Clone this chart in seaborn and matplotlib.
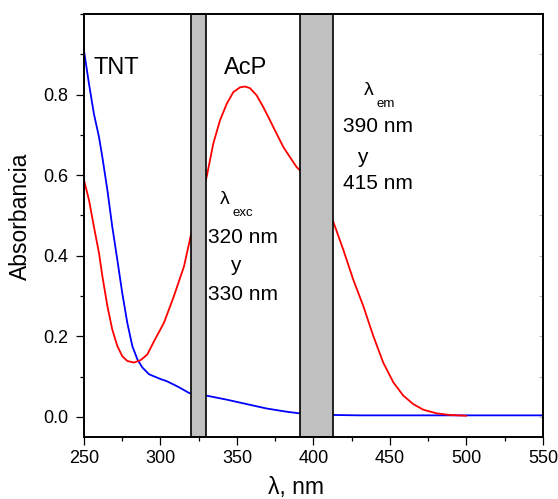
import numpy as np
import pandas as pd
import matplotlib
matplotlib.use('Agg')
import matplotlib.pyplot as plt
from matplotlib.ticker import MultipleLocator
import seaborn as sns

sns.set_style('ticks')
plt.rcParams['font.family'] = ['Liberation Sans', 'DejaVu Sans']
plt.rcParams['text.color'] = 'black'
plt.rcParams['axes.labelcolor'] = 'black'
plt.rcParams['xtick.color'] = 'black'
plt.rcParams['ytick.color'] = 'black'
plt.rcParams['axes.edgecolor'] = 'black'

# TNT (azul)
tnt_x = [250, 253.3, 256.5, 259.8, 262, 265.3, 268.5, 271.8, 275, 278.3, 281.6, 284.9,
         288.1, 292.5, 300.1, 304, 311.5, 319, 330, 343.3, 356.3, 369.4, 382.5,
         391, 412.5, 430, 450, 500, 550]
tnt_y = [0.909, 0.826, 0.752, 0.695, 0.645, 0.563, 0.472, 0.390, 0.308, 0.234, 0.176, 0.143,
         0.123, 0.106, 0.094, 0.089, 0.075, 0.059, 0.053, 0.043, 0.032, 0.021, 0.013,
         0.009, 0.005, 0.004, 0.004, 0.004, 0.004]

# AcP (rojo)
acp_x = [250, 253.3, 256.5, 259.8, 262, 265.3, 268.5, 271.8, 275, 278.3, 282.7, 287,
         291.4, 295.8, 302.3, 308.8, 315.4, 319.7, 330.2, 334.5, 338.9, 343.3, 347.6,
         352, 355.2, 358.5, 362.9, 367.2, 371.6, 375.9, 380.3, 384.6, 389, 391.2,
         402, 412.9, 419.5, 426, 432.6, 439.1, 445.6, 452.2, 458.7, 465.2, 471.8,
         480.5, 489.2, 500]
acp_y = [0.588, 0.538, 0.472, 0.407, 0.350, 0.275, 0.217, 0.176, 0.151, 0.139, 0.135, 0.141,
         0.155, 0.188, 0.234, 0.300, 0.374, 0.448, 0.596, 0.678, 0.736, 0.777, 0.806,
         0.818, 0.820, 0.816, 0.798, 0.769, 0.736, 0.703, 0.670, 0.645, 0.620, 0.612,
         0.55, 0.485, 0.415, 0.341, 0.275, 0.201, 0.135, 0.086, 0.053, 0.032, 0.018,
         0.009, 0.005, 0.003]

bandas = [(320, 330), (391.5, 412.5)]

fig = plt.figure(figsize=(5.58, 4.99), dpi=100)
ax = fig.add_axes([0.1505, 0.124, 0.8225, 0.848])

sns.lineplot(x=tnt_x, y=tnt_y, color='#0000ff', lw=1.3, ax=ax, sort=False, zorder=2)
sns.lineplot(x=acp_x, y=acp_y, color='#ff0000', lw=1.3, ax=ax, sort=False, zorder=2)

for a, b in bandas:
    ax.axvspan(a, b, facecolor='#c0c0c0', edgecolor='black', lw=1.2, zorder=3)

ax.set_xlim(250, 550)
ax.set_ylim(-0.05, 1.0)
ax.xaxis.set_major_locator(MultipleLocator(50))
ax.xaxis.set_minor_locator(MultipleLocator(25))
ax.yaxis.set_minor_locator(MultipleLocator(0.1))
ax.set_yticks([0.0, 0.2, 0.4, 0.6, 0.8])
ax.set_yticklabels(['0.0', '0.2', '0.4', '0.6', '0.8'])
ax.tick_params(which='major', length=6, width=0.9, labelsize=13, direction='out')
ax.tick_params(axis='x', which='major', pad=3)
ax.tick_params(axis='y', which='major', pad=5)
ax.tick_params(which='minor', length=3, width=0.9, direction='out')
for s in ax.spines.values():
    s.set_linewidth(1.4)
    s.set_zorder(5)

# ticks internos grises del eje derecho
sec = ax.secondary_yaxis('right')
sec.yaxis.set_major_locator(MultipleLocator(0.1))
sec.tick_params(direction='in', length=3, color='#bbbbbb', labelright=False)
sec.spines['right'].set_visible(False)

ax.set_xlabel('λ, nm', fontsize=16.5)
ax.xaxis.set_label_coords(0.461, -0.092)
ax.set_ylabel('Absorbancia', fontsize=16.5)
ax.yaxis.set_label_coords(-0.113, 0.522)

ax.text(256, 0.867, 'TNT', fontsize=17, va='center', ha='left')
ax.text(355.9, 0.867, 'AcP', fontsize=17, va='center', ha='center')

# lambda exc
ax.text(342.2, 0.540, 'λ', fontsize=14, ha='center', va='center', zorder=6)
ax.text(353.6, 0.507, 'exc', fontsize=9.5, ha='center', va='center', zorder=6)
ax.text(354.2, 0.446, '320 nm', fontsize=15, ha='center', va='center', zorder=6)
ax.text(348.7, 0.375, 'y', fontsize=15, ha='center', va='center', zorder=6)
ax.text(354.2, 0.305, '330 nm', fontsize=15, ha='center', va='center', zorder=6)

# lambda em
ax.text(436.3, 0.811, 'λ', fontsize=14, ha='center', va='center', zorder=6)
ax.text(447, 0.776, 'em', fontsize=9.5, ha='center', va='center', zorder=6)
ax.text(442.2, 0.721, '390 nm', fontsize=15, ha='center', va='center', zorder=6)
ax.text(431.7, 0.645, 'y', fontsize=15, ha='center', va='center', zorder=6)
ax.text(442.2, 0.580, '415 nm', fontsize=15, ha='center', va='center', zorder=6)

fig.savefig('out.png', dpi=100)
